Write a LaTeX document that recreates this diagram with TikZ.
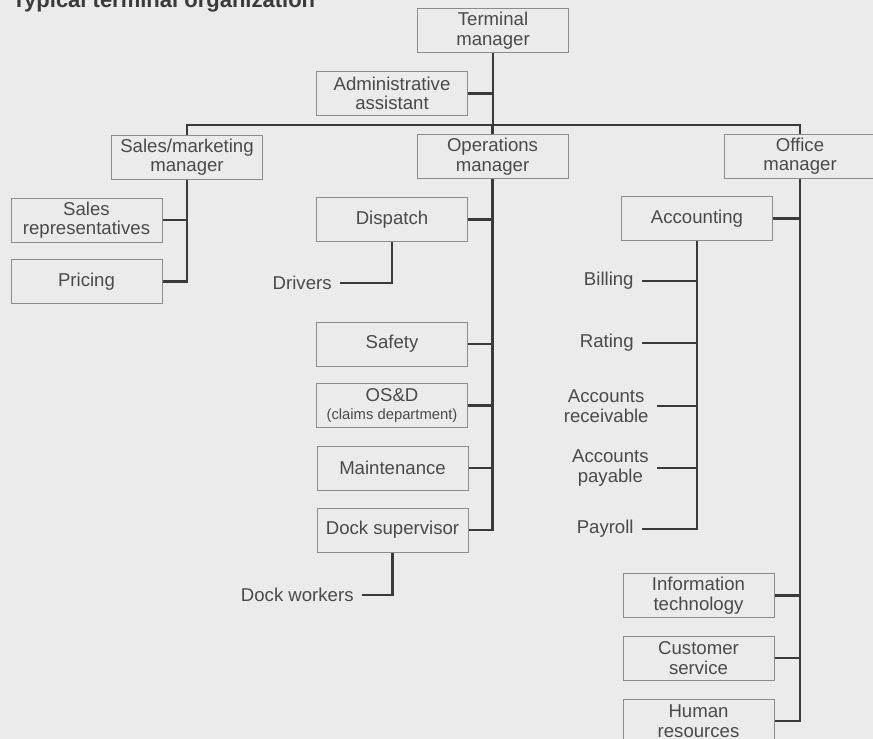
\documentclass[tikz,border=0pt]{standalone}
\usepackage{fontspec}
\setmainfont{Liberation Sans}
\definecolor{orgpaper}{HTML}{EBEBEB}
\definecolor{orgline}{HTML}{3A3A3A}
\definecolor{orgframe}{HTML}{8C8C8C}
\definecolor{orgtext}{HTML}{4A4A4A}
\begin{document}
\begin{tikzpicture}[x=0.5pt,y=-0.5pt,
  unit/.style={draw=orgframe,line width=0.5pt,fill=orgpaper,text=orgtext,
    align=center,minimum width=75.5pt,minimum height=22pt,inner sep=0pt,
    font=\fontsize{9.3}{9.7}\selectfont},
  staff/.style={anchor=east,text=orgtext,align=center,inner xsep=4pt,
    inner ysep=0pt,font=\fontsize{9.3}{9.7}\selectfont},
  link/.style={draw=orgline,line width=1.1pt}]
  \useasboundingbox (0,0) rectangle (873,739);
  \clip (0,0) rectangle (873,739);
  \fill[orgpaper] (0,0) rectangle (873,739);
  \node[anchor=base west,text=orgline,inner sep=0pt,
    font=\fontsize{11}{12}\selectfont\bfseries] (title) at (12,8)
    {Typical terminal organization};

  % top level
  \node[unit] (term) at (493,30.5) {Terminal\\manager};
  \node[unit] (admin) at (392,93.5) {Administrative\\assistant};
  \coordinate (bus) at (493,125);
  \node[unit] (sales) at (187,157) {Sales/marketing\\manager};
  \node[unit] (ops) at (492.5,156.5) {Operations\\manager};
  \node[unit] (office) at (800,156) {Office\\manager};

  % sales
  \node[unit] (salesrep) at (86.5,220) {Sales\\representatives};
  \node[unit] (pricing) at (86.5,281.5) {Pricing};

  % operations
  \node[unit] (dispatch) at (392,219.5) {Dispatch};
  \node[staff] (drivers) at (340,283) {Drivers};
  \node[unit] (safety) at (392,344) {Safety};
  \node[unit] (osd) at (392,405.5) {OS\&D\\[-1pt]{\fontsize{7.4}{8}\selectfont (claims department)}};
  \node[unit] (maint) at (392.5,468) {Maintenance};
  \node[unit] (dock) at (392.5,530) {Dock supervisor};
  \node[staff] (dockw) at (362,595) {Dock workers};

  % office
  \node[unit] (acct) at (697,218.5) {Accounting};
  \node[staff] (billing) at (642,281) {Billing};
  \node[staff] (rating) at (642,343) {Rating};
  \node[staff] (ar) at (657,406) {Accounts\\receivable};
  \node[staff] (ap) at (657,468) {Accounts\\payable};
  \node[staff] (payroll) at (642,529) {Payroll};
  \node[unit] (it) at (698.5,595.5) {Information\\technology};
  \node[unit] (cust) at (698.5,658) {Customer\\service};
  \node[unit] (hr) at (698.5,721) {Human\\resources};

  % connectors
  \draw[link] (term.south) -- (term.south |- bus);
  \draw[link] (admin.east) -- (admin.east -| term);
  \draw[link] (sales.north) -- (sales.north |- bus) -- (office.north |- bus) -- (office.north);
  \draw[link] (ops.north |- bus) -- (ops.north);
  \draw[link] (sales.south) |- (pricing.east);
  \draw[link] (salesrep.east) -- (salesrep.east -| sales);
  \draw[link] (ops.south) |- (dock.east);
  \foreach \n in {dispatch,safety,osd,maint}
    \draw[link] (\n.east) -- (\n.east -| ops);
  \draw[link] (dispatch.south) |- (drivers.east);
  \draw[link] (dock.south) |- (dockw.east);
  \draw[link] (office.south) |- (hr.east);
  \foreach \n in {acct,it,cust}
    \draw[link] (\n.east) -- (\n.east -| office);
  \draw[link] (acct.south) |- (payroll.east);
  \foreach \n in {billing,rating,ar,ap}
    \draw[link] (\n.east) -- (\n.east -| acct);
\end{tikzpicture}
\end{document}
